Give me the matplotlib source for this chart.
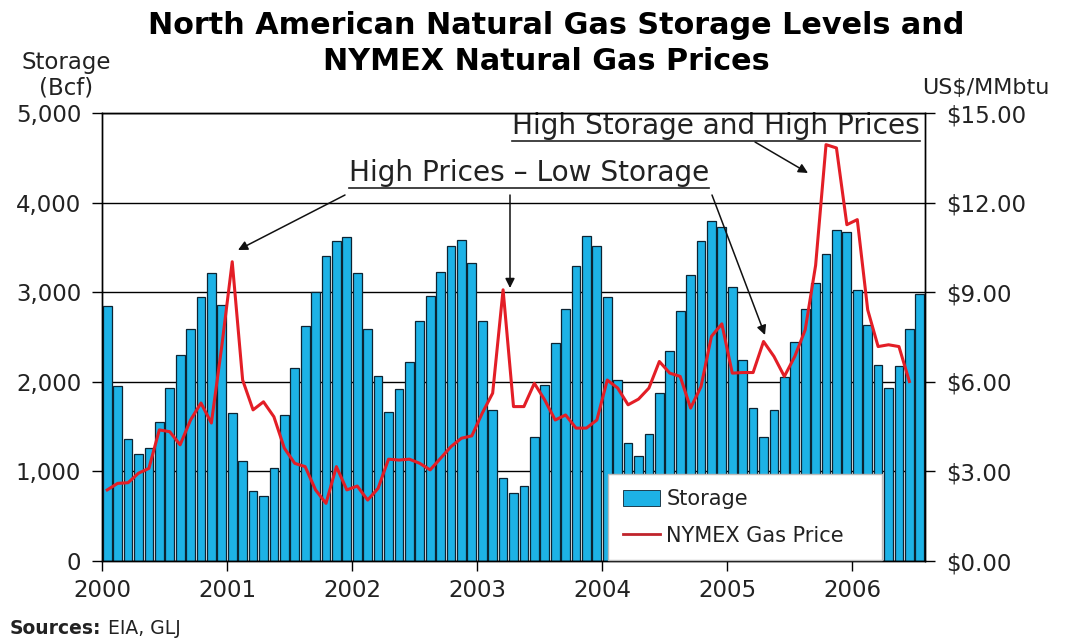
import matplotlib
matplotlib.use("Agg")
import matplotlib.pyplot as plt
from matplotlib.patches import Patch
from matplotlib.lines import Line2D
from matplotlib.ticker import FuncFormatter, MultipleLocator

# ---------------- data (monthly, Jan 2000 onward) ----------------
year_labels = ["2000", "2001", "2002", "2003", "2004", "2005", "2006"]

storage_bcf = [
    2841, 1955, 1359, 1195, 1258, 1556, 1929, 2301, 2591, 2945, 3213, 2859,   # 2000
    1649, 1121, 786, 726, 1042, 1631, 2159, 2628, 2997, 3399, 3567, 3611,     # 2001
    3213, 2591, 2066, 1668, 1917, 2219, 2673, 2963, 3224, 3518, 3585, 3325,   # 2002
    2681, 1687, 923, 763, 838, 1389, 1966, 2431, 2811, 3295, 3630, 3511,      # 2003
    2945, 2022, 1314, 1173, 1414, 1873, 2349, 2785, 3194, 3567, 3790, 3723,   # 2004
    3053, 2245, 1713, 1381, 1687, 2059, 2439, 2815, 3101, 3425, 3697, 3671,   # 2005
    3019, 2636, 2189, 1929, 2178, 2587, 2982,                                 # 2006
]

price_usd = [
    2.38, 2.60, 2.62, 2.94, 3.10, 4.39, 4.33, 3.89, 4.72, 5.29, 4.62, 7.20,   # 2000
    10.02, 6.06, 5.06, 5.33, 4.83, 3.78, 3.27, 3.16, 2.38, 1.93, 3.16, 2.38,  # 2001
    2.51, 2.04, 2.43, 3.41, 3.38, 3.41, 3.27, 3.05, 3.44, 3.83, 4.11, 4.19,   # 2002
    4.95, 5.62, 9.08, 5.17, 5.17, 5.95, 5.39, 4.72, 4.89, 4.45, 4.45, 4.72,   # 2003
    6.06, 5.79, 5.23, 5.42, 5.79, 6.68, 6.29, 6.18, 5.12, 5.84, 7.52, 7.94,   # 2004
    6.29, 6.31, 6.31, 7.35, 6.85, 6.18, 6.85, 7.74, 9.90, 13.94, 13.83, 11.26, # 2005
    11.43, 8.41, 7.18, 7.24, 7.18, 6.01,                                       # 2006
]

# ---------------- figure ----------------
plt.rcParams['font.family'] = ['DejaVu Sans']
TXT = '#222222'
BAR_C = '#1DB2E6'
EDGE_C = '#0c2433'

fig = plt.figure(figsize=(10.69, 6.4), dpi=100)
ax = fig.add_axes([102 / 1069, 1 - 561 / 640, 823 / 1069, 448 / 640])

x_bar = [i + 0.5 for i in range(len(storage_bcf))]
x_price = [i + 0.5 for i in range(len(price_usd))]

ax.set_axisbelow(True)
ax.yaxis.grid(True, color='black', lw=1.0)
ax.bar(x_bar, storage_bcf, width=0.84, color=BAR_C,
       edgecolor=EDGE_C, linewidth=0.9, zorder=2)

ax.set_xlim(0, len(storage_bcf))
ax.set_ylim(0, 5000)
ax.yaxis.set_major_locator(MultipleLocator(1000))
ax.yaxis.set_major_formatter(FuncFormatter(lambda v, p: f"{int(v):,}"))
ax.set_xticks([12 * k for k in range(len(year_labels))])
ax.set_xticklabels(year_labels)
ax.tick_params(axis='both', direction='out', length=7, width=1,
               labelsize=16.5, colors='black', labelcolor=TXT)
ax.tick_params(axis='y', pad=8)
ax.tick_params(axis='x', pad=6)

ax2 = ax.twinx()
ax2.plot(x_price, price_usd, color='#E31E26', lw=2.2, zorder=3)
ax2.set_ylim(0, 15)
ax2.yaxis.set_major_locator(MultipleLocator(3))
ax2.yaxis.set_major_formatter(FuncFormatter(lambda v, p: f"${v:.2f}"))
ax2.tick_params(axis='y', direction='out', length=7, width=1,
                labelsize=16.5, colors='black', labelcolor=TXT, pad=8)

for a in (ax, ax2):
    for s in a.spines.values():
        s.set_color('black')
        s.set_linewidth(1.0)

# ---------------- titles / axis labels ----------------
fig.text(556 / 1069, 1 - 25 / 640, "North American Natural Gas Storage Levels and",
         ha='center', va='center', fontsize=21.8, fontweight='bold', color='black')
fig.text(546 / 1069, 1 - 61 / 640, "NYMEX Natural Gas Prices",
         ha='center', va='center', fontsize=21.8, fontweight='bold', color='black')
fig.text(66 / 1069, 1 - 62 / 640, "Storage", ha='center', va='center',
         fontsize=16.5, color=TXT)
fig.text(66 / 1069, 1 - 88 / 640, "(Bcf)", ha='center', va='center',
         fontsize=16.5, color=TXT)
fig.text(986 / 1069, 1 - 88 / 640, "US$/MMbtu", ha='center', va='center',
         fontsize=16, color=TXT)
src_b = fig.text(10 / 1069, 1 - 629 / 640, "Sources:", ha='left', va='center',
                 fontsize=13.5, fontweight='bold', color=TXT)

# ---------------- annotations ----------------
def px2data(px, py):
    return ((px - 102) / 823 * len(storage_bcf), (561 - py) / 448 * 5000)

t1 = ax.text(*px2data(529, 173), "High Prices \u2013 Low Storage", ha='center',
             va='center', fontsize=20.2, color=TXT, zorder=6)
t2 = ax.text(*px2data(716, 126), "High Storage and High Prices", ha='center',
             va='center', fontsize=20.2, color=TXT, zorder=6)

arrows = [((345, 195), (238, 250)),
          ((510, 195), (510, 288)),
          ((712, 195), (765, 335)),
          ((755, 142), (808, 173))]
for (sx, sy), (ex, ey) in arrows:
    ax.annotate("", xy=px2data(ex, ey), xytext=px2data(sx, sy),
                arrowprops=dict(arrowstyle='-|>', color='#111111', lw=1.1,
                                mutation_scale=14, shrinkA=0, shrinkB=0),
                zorder=6)

fig.canvas.draw()
rend = fig.canvas.get_renderer()
for t in (t1, t2):
    bb = t.get_window_extent(renderer=rend)
    yline = bb.y0 - 1
    fig.add_artist(Line2D([bb.x0 / 1069, bb.x1 / 1069], [yline / 640, yline / 640],
                          transform=fig.transFigure, color=TXT, lw=1.2))

sb = src_b.get_window_extent(renderer=rend)
fig.text((sb.x1 + 6) / 1069, 1 - 629 / 640, "EIA, GLJ", ha='left', va='center',
         fontsize=13.5, color=TXT)

# ---------------- legend ----------------
handles = [Patch(facecolor=BAR_C, edgecolor=EDGE_C, linewidth=0.6),
           Line2D([], [], color='#C0242B', lw=2)]
leg = ax2.legend(handles, ["Storage", "NYMEX Gas Price"],
                 loc='lower left',
                 bbox_to_anchor=((608 - 102) / 823, 0.002, (882 - 608) / 823, 80 / 448),
                 mode='expand', fontsize=15, frameon=True, fancybox=False,
                 handlelength=1.8, handleheight=0.8, handletextpad=0.3,
                 borderpad=0.7, labelspacing=0.8, borderaxespad=0)
leg.get_frame().set_facecolor('white')
leg.get_frame().set_edgecolor('#bbbbbb')
leg.get_frame().set_linewidth(1.0)
leg.get_frame().set_alpha(1)
leg.set_zorder(10)
for txt in leg.get_texts():
    txt.set_color(TXT)

fig.savefig("out.png", dpi=100)
